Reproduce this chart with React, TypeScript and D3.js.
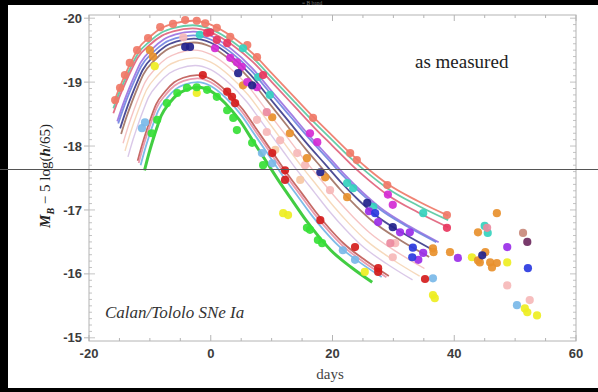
import * as d3 from "d3";

// template light curve (stretch 1): day and magnitude below peak
const templateDays = [-16, -15, -14, -13, -12, -10, -8, -6, -3, 0, 3.5, 7, 10, 13.5, 17, 20, 23, 26, 29, 34, 39];
const templateDelta = [1.3, 1.05, 0.83, 0.63, 0.45, 0.25, 0.11, 0.04, 0, 0.06, 0.25, 0.52, 0.82, 1.17, 1.52, 1.8, 2.08, 2.33, 2.55, 2.82, 3.05];

// one fitted curve per supernova
const curveColors = ["#ee7766", "#55c8a0", "#e0607a", "#9a70e0", "#6f82e0", "#3a3a8a", "#a07060", "#f4bcbc", "#f5d5b5", "#d6c2e6", "#c05a55", "#e890a5", "#70b4e6", "#2ec82e"];
const curvePeaks = [-19.96, -19.89, -19.84, -19.79, -19.73, -19.68, -19.62, -19.5, -19.38, -19.26, -19.11, -19.06, -19.0, -18.92];
const curveStretch = [1.0, 1.0, 1.0, 0.96, 0.95, 0.93, 0.92, 0.9, 0.88, 0.85, 0.75, 0.74, 0.72, 0.68];
const curveDecline = [1.0, 1.0, 1.02, 1.08, 1.06, 1.08, 1.1, 1.12, 1.12, 1.1, 1.03, 1.02, 1.0, 1.0];

type Pt = [number, number];

const salmonDots: Pt[] = [[-15.7, -18.72], [-14.9, -18.91], [-14.1, -19.11], [-13.3, -19.3], [-12.1, -19.5], [-10.3, -19.69], [-8.3, -19.86], [-6.2, -19.91], [-4.2, -19.97], [-2.3, -19.96], [-0.9, -19.92], [1.0, -19.85], [3.2, -19.71], [6.0, -19.58], [7.6, -19.39], [16.8, -18.44], [22.9, -17.89], [24.0, -17.78], [29.0, -17.39], [38.8, -16.92]];
const hotPinkDots: Pt[] = [[-0.6, -19.77], [-0.1, -19.78], [1.0, -19.66], [2.7, -19.61], [8.6, -19.11], [38.8, -16.72]];
const magentaDots: Pt[] = [[0.7, -19.53], [3.2, -19.38], [4.3, -19.31], [5.1, -19.24], [6.0, -19.0], [7.6, -18.92], [16.3, -18.2], [17.5, -18.06], [29.1, -17.24], [29.9, -17.08]];
const navyDots: Pt[] = [[-4.2, -19.55], [-3.4, -19.55], [4.5, -19.14], [6.8, -18.95], [18.0, -17.59], [25.7, -17.11], [29.9, -16.73], [44.6, -16.29]];
const blueDots: Pt[] = [[33.1, -16.26], [33.2, -16.41], [52.1, -16.09], [27.0, -16.95]];
const violetDots: Pt[] = [[27.5, -16.81], [31.1, -16.65], [32.7, -16.65], [34.1, -16.22], [34.9, -16.33], [40.6, -16.25], [48.7, -16.42], [26.0, -16.98]];
const orangeDots: Pt[] = [[-10.0, -19.5], [-9.5, -19.4], [5.3, -18.95], [10.1, -18.45], [13.0, -18.2], [15.8, -17.81], [18.8, -17.51], [22.4, -17.2], [36.5, -16.4], [36.6, -16.34], [39.3, -16.34], [43.9, -16.21], [45.1, -16.34], [45.9, -16.18], [47.0, -16.17], [46.2, -16.1], [44.2, -16.18], [47.0, -16.95], [43.9, -16.65]];
const tealDots: Pt[] = [[-1.8, -19.74], [5.3, -19.53], [7.8, -19.08], [9.7, -18.8], [22.4, -17.42], [23.4, -17.34], [26.7, -17.05], [34.9, -16.95], [45.5, -16.64], [45.0, -16.75]];
const redDots: Pt[] = [[-1.3, -19.11], [2.7, -18.85], [3.5, -18.77], [4.0, -18.67], [10.1, -17.89], [12.2, -17.62], [12.2, -17.47], [18.0, -16.84], [23.7, -16.42], [27.5, -16.09], [27.5, -16.03], [35.2, -15.92]];
const palePinkDots: Pt[] = [[-4.5, -19.7], [7.6, -18.41], [9.2, -18.22], [11.4, -18.09], [14.2, -17.89], [15.5, -17.7], [19.6, -17.31], [30.3, -16.48], [29.9, -16.26], [48.7, -15.82], [52.4, -15.59]];
const lightBlueDots: Pt[] = [[-11.3, -18.28], [-10.8, -18.37], [8.4, -17.89], [10.1, -17.73], [21.7, -16.37], [23.7, -16.22], [36.5, -15.93], [50.3, -15.51]];
const yellowDots: Pt[] = [[-9.2, -19.25], [-2.3, -18.83], [11.9, -16.95], [12.7, -16.92], [25.3, -16.03], [36.5, -15.67], [36.8, -15.62], [42.9, -16.26], [48.7, -16.18], [51.6, -15.46], [52.0, -15.4], [53.6, -15.35]];
const greenDots: Pt[] = [[-9.7, -18.2], [-8.8, -18.41], [-7.2, -18.67], [-5.5, -18.83], [-3.9, -18.91], [-2.3, -18.92], [-0.6, -18.88], [1.0, -18.77], [2.7, -18.56], [3.7, -18.44], [4.3, -18.25], [6.8, -18.05], [8.6, -17.7], [16.3, -16.69], [17.6, -16.53], [18.3, -16.48], [15.8, -16.72]];
const roseDots: Pt[] = [[9.2, -18.53], [29.5, -16.48], [45.4, -16.72]];
const peachDots: Pt[] = [[10.6, -17.94], [14.7, -17.47]];
const dustyDots: Pt[] = [[51.3, -16.64]];
const plumDots: Pt[] = [[52.0, -16.5]];

const dotGroups: { color: string; pts: Pt[] }[] = [
  { color: "#f6b8b8", pts: palePinkDots },
  { color: "#f6c8a4", pts: peachDots },
  { color: "#7ab8e8", pts: lightBlueDots },
  { color: "#eeee22", pts: yellowDots },
  { color: "#36e036", pts: greenDots },
  { color: "#f07a68", pts: salmonDots },
  { color: "#e8902c", pts: orangeDots },
  { color: "#34d2be", pts: tealDots },
  { color: "#ec8aa0", pts: roseDots },
  { color: "#e8365e", pts: hotPinkDots },
  { color: "#d42ad4", pts: magentaDots },
  { color: "#9a2ee8", pts: violetDots },
  { color: "#2a3ae0", pts: blueDots },
  { color: "#22228c", pts: navyDots },
  { color: "#d41c1c", pts: redDots },
  { color: "#c98a7c", pts: dustyDots },
  { color: "#6e2a60", pts: plumDots },
];

const xTicks = [-20, 0, 20, 40, 60];
const yTicks = [-20, -19, -18, -17, -16, -15];

const W = 598;
const H = 392;

export default function App() {
  const x = d3.scaleLinear().domain([-20, 60]).range([89, 576]);
  const y = d3.scaleLinear().domain([-20.05, -14.95]).range([15, 341]);
  const line = d3
    .line<Pt>()
    .x((d) => x(d[0]))
    .y((d) => y(d[1]))
    .curve(d3.curveMonotoneX);

  const curves = curveColors.map((c, i) => {
    const pts: Pt[] = templateDays.map((t, j) => [t * curveStretch[i], curvePeaks[i] + templateDelta[j] * curveDecline[i]]);
    return { color: c, path: line(pts) || "", width: i === curveColors.length - 1 ? 3 : i >= 7 && i <= 9 ? 1.4 : 1.8 };
  });

  const xMinor = d3.range(-20, 60.1, 5);
  const yMinor = d3.range(-20, -14.95, 0.1);
  const [x0, x1] = x.range();
  const [y0, y1] = y.range();
  const axisColor = "#b4b4b4";

  return (
    <svg width={W} height={H} style={{ position: "absolute", left: 0, top: 0, display: "block" }}>
      <rect width={W} height={H} fill="#000" />
      <rect x={8} y={5} width={W - 8} height={383} fill="#fff" />
      <text x={302} y={4.5} fontFamily="Liberation Serif, serif" fontSize={5.5} fill="#777">= B band</text>

      {/* frame */}
      <rect x={x0} y={y0} width={x1 - x0} height={y1 - y0} fill="none" stroke={axisColor} strokeWidth={1} />
      {xMinor.map((t) => (
        <g key={"xm" + t} stroke={axisColor} strokeWidth={1}>
          <line x1={x(t)} x2={x(t)} y1={y1} y2={y1 - (t % 20 === 0 ? 6 : 3)} />
          <line x1={x(t)} x2={x(t)} y1={y0} y2={y0 + (t % 20 === 0 ? 6 : 3)} />
        </g>
      ))}
      {yMinor.map((t, i) => (
        <g key={"ym" + i} stroke={axisColor} strokeWidth={0.8}>
          <line x1={x0} x2={x0 + (i % 10 === 0 ? 6 : 3)} y1={y(t)} y2={y(t)} />
          <line x1={x1} x2={x1 - (i % 10 === 0 ? 6 : 3)} y1={y(t)} y2={y(t)} />
        </g>
      ))}
      {yTicks.map((t) => (
        <g key={"yt" + t}>
          <line x1={x0 - 5} x2={x0} y1={y(t)} y2={y(t)} stroke={axisColor} />
          <text x={x0 - 7} y={y(t)} dy="0.35em" textAnchor="end" fontFamily="Liberation Sans, Arial, sans-serif" fontWeight="bold" fontSize={13} fill="#3c3c3c">
            {t}
          </text>
        </g>
      ))}
      {xTicks.map((t) => (
        <text key={"xt" + t} x={x(t)} y={358} textAnchor="middle" fontFamily="Liberation Sans, Arial, sans-serif" fontWeight="bold" fontSize={13} fill="#3c3c3c">
          {t}
        </text>
      ))}

      {/* curves */}
      {curves.map((c, i) => (
        <path key={"c" + i} d={c.path} fill="none" stroke={c.color} strokeWidth={c.width} strokeOpacity={0.9} />
      ))}

      {/* observations */}
      {dotGroups.map((g, gi) =>
        g.pts.map((p, pi) => <circle key={gi + "-" + pi} cx={x(p[0])} cy={y(p[1])} r={4.1} fill={g.color} fillOpacity={0.92} />)
      )}

      <text x={415} y={68} fontFamily="Liberation Serif, Times New Roman, serif" fontSize={19} fill="#222">as measured</text>
      <text x={105} y={318} fontFamily="Liberation Serif, Times New Roman, serif" fontStyle="italic" fontSize={17} fill="#333">Calan/Tololo SNe Ia</text>
      <text x={330} y={379} textAnchor="middle" fontFamily="Liberation Serif, Times New Roman, serif" fontSize={15} fill="#444">days</text>
      <text transform="translate(50,176) rotate(-90)" textAnchor="middle" fontFamily="Liberation Serif, Times New Roman, serif" fontSize={15} fill="#222">
        <tspan fontWeight="bold" fontStyle="italic">M</tspan>
        <tspan fontWeight="bold" fontStyle="italic" fontSize={10} dy={4}>B</tspan>
        <tspan dy={-4}> − 5 log(</tspan>
        <tspan fontWeight="bold" fontStyle="italic">h</tspan>
        <tspan>/65)</tspan>
      </text>

      {/* thin scan line across the picture */}
      <line x1={0} x2={W} y1={169.5} y2={169.5} stroke="#555" strokeWidth={1} />
    </svg>
  );
}
